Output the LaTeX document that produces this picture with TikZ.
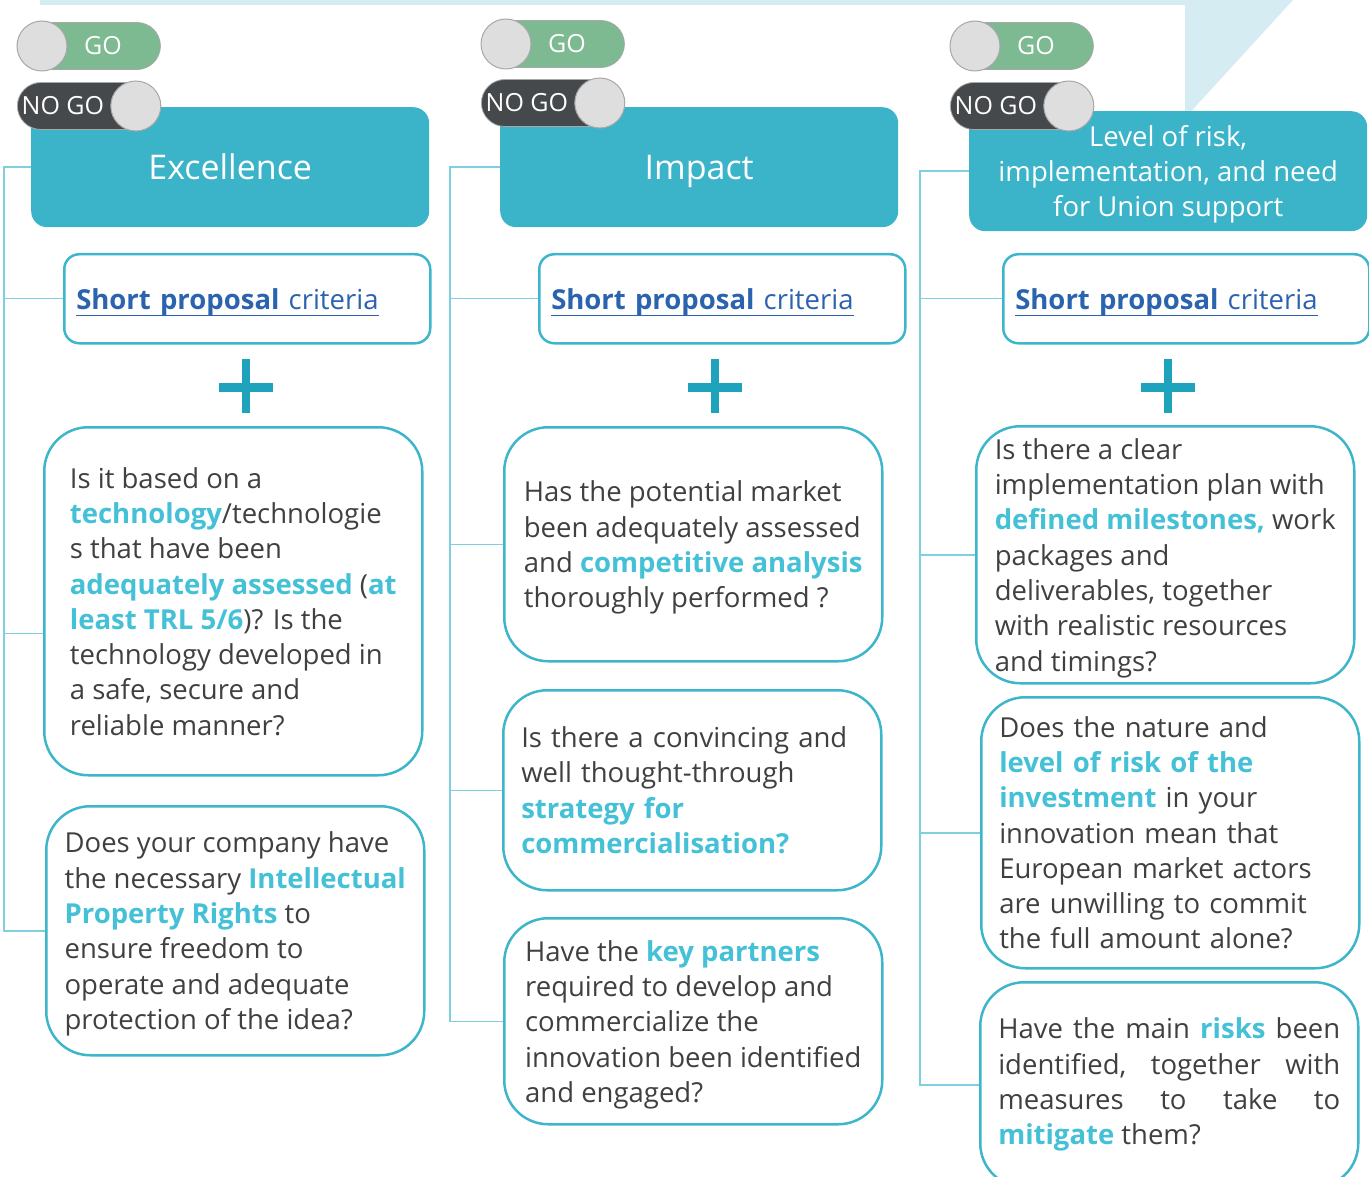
\documentclass[tikz,border=0pt]{standalone}
\usepackage{fontspec}
\setmainfont{Open Sans}
\usetikzlibrary{positioning,calc}

\definecolor{headteal}{RGB}{59,179,200}
\definecolor{boxteal}{RGB}{61,181,202}
\definecolor{plusteal}{RGB}{31,163,188}
\definecolor{hlcyan}{RGB}{69,193,215}
\definecolor{bodygray}{RGB}{64,64,64}
\definecolor{linkblue}{RGB}{43,99,175}
\definecolor{branchteal}{RGB}{127,208,222}
\definecolor{bandblue}{RGB}{213,236,242}
\definecolor{gogreen}{RGB}{125,186,145}
\definecolor{nogodark}{RGB}{69,73,76}
\definecolor{knobgray}{RGB}{222,222,222}
\definecolor{knobedge}{RGB}{168,168,168}

\newcommand{\hl}[1]{\textcolor{hlcyan}{\textbf{#1}}}
\newcommand{\linkul}[1]{\leavevmode\setbox0=\hbox{#1}\rlap{\rule[-7pt]{\wd0}{1.6pt}}\box0}

\begin{document}
\begin{tikzpicture}[x=1pt,y=-1pt,
    header/.style={fill=headteal, rounded corners=16pt, text=white, align=center,
        minimum width=398pt, minimum height=120pt, inner sep=0pt, anchor=north west,
        font=\fontsize{34}{40}\selectfont},
    crit/.style={draw=boxteal, line width=2.5pt, fill=white, rounded corners=15pt,
        minimum height=89pt, inner xsep=12pt, inner ysep=0pt, text width=342pt,
        text depth=0pt, align=left, anchor=north west, text=linkblue,
        font=\fontsize{27.5}{35}\selectfont},
    ques/.style={draw=boxteal, line width=2.5pt, fill=white, rounded corners=44pt,
        minimum width=378pt, inner sep=0pt, text depth=0pt, align=left, anchor=north west,
        text=bodygray, font=\fontsize{27.5}{35.3}\selectfont},
    branch/.style={draw=branchteal, line width=1.5pt},
    pill/.style={rounded corners=23.5pt, minimum width=143pt, minimum height=47pt,
        inner sep=0pt, draw=knobedge, line width=0.8pt, anchor=west},
    knob/.style={circle, fill=knobgray, draw=knobedge, line width=1pt,
        minimum size=50pt, inner sep=0pt},
    togtext/.style={text=white, inner sep=0pt, font=\fontsize{25}{28}\selectfont}
]
    \useasboundingbox (0,0) rectangle (1369,1177);
    \clip (0,0) rectangle (1369,1177);

    % light band and arrow tip at the top
    \fill[bandblue] (40,0) -- (1293,0) -- (1185,118) -- (1185,5) -- (40,5) -- cycle;

    % the three headers
    \node[header, text height=24.3pt, text depth=0pt] (exc) at (31,107) {Excellence};
    \node[header, text height=24.3pt, text depth=0pt] (imp) at (500,107) {Impact};
    \node[header, text depth=0pt, font=\fontsize{27.5}{35}\selectfont] (lvl) at (969,111)
        {Level of risk,\\implementation, and need\\for Union support};

    % go / no go switches
    \foreach \i/\x/\ya/\yb in {1/17/46/106, 2/481/44/103, 3/950/46/106}{
        \node[pill, fill=gogreen] (go\i) at (\x,\ya) {};
        \node[togtext] (got\i) at ([xshift=14pt]go\i.center) {GO};
        \node[knob] (gok\i) at ([xshift=25pt]go\i.west) {};
        \node[pill, fill=nogodark] (nogo\i) at (\x,\yb) {};
        \node[togtext] (nogot\i) at ([xshift=-26pt]nogo\i.center) {NO GO};
        \node[knob] (nogok\i) at ([xshift=-25pt]nogo\i.east) {};
    }

    % short proposal boxes
    \node[crit] (crit1) at (63,253) {\linkul{\textbf{Short proposal} criteria}};
    \node[crit] (crit2) at (538,253) {\linkul{\textbf{Short proposal} criteria}};
    \node[crit] (crit3) at (1002,253) {\linkul{\textbf{Short proposal} criteria}};

    % plus signs
    \foreach \x in {246,715,1168}{
        \fill[plusteal] ({\x-27},383) rectangle ({\x+27},392);
        \fill[plusteal] ({\x-4},359) rectangle ({\x+4},413);
    }

    % excellence questions
    \node[ques, minimum height=348pt] (q1a) at (43,426)
        {Is it based on a\\
         \hl{technology}/technologie\\
         s that have been\\
         \hl{adequately assessed} (\hl{at}\\
         \hl{least TRL 5/6})? Is the\\
         technology developed in\\
         a safe, secure and\\
         reliable manner?};
    \node[ques, minimum height=249pt] (q1b) at (45,805)
        {Does your company have\\
         the necessary \hl{Intellectual}\\
         \hl{Property Rights} to\\
         ensure freedom to\\
         operate and adequate\\
         protection of the idea?};

    % impact questions
    \node[ques, minimum height=234pt] (q2a) at (503,426)
        {Has the potential market\\
         been adequately assessed\\
         and \hl{competitive analysis}\\
         thoroughly performed ?};
    \node[ques, minimum height=200pt, text width=342pt, inner xsep=18pt, text depth={}]
        (q2b) at (502,689)
        {Is there a convincing and\\
         well thought-through\\
         \hl{strategy for}\\
         \hl{commercialisation?}};
    \node[ques, minimum height=206pt] (q2c) at (503,917)
        {Have the \hl{key partners}\\
         required to develop and\\
         commercialize the\\
         innovation been identified\\
         and engaged?};

    % risk questions
    \node[ques, minimum height=257pt] (q3a) at (975,425)
        {Is there a clear\\
         implementation plan with\\
         \hl{defined milestones,} work\\
         packages and\\
         deliverables, together\\
         with realistic resources\\
         and timings?};
    \node[ques, minimum height=271pt, text width=342pt, inner xsep=18pt, text depth={}]
        (q3b) at (980,696)
        {Does the nature and\\
         \hl{level of risk of the}\\
         \hl{investment} in your\\
         innovation mean that\\
         European market actors\\
         are unwilling to commit\\
         the full amount alone?};
    \node[ques, minimum height=205pt, text depth={}] (q3c) at (979,981)
        {\hbox to 342pt{Have\hfill the\hfill main\hfill \hl{risks}\hfill been}\\
         \hbox to 342pt{identified,\hfill together\hfill with}\\
         \hbox to 342pt{measures\hfill to\hfill take\hfill to}\\
         \hl{mitigate} them?};

    % connector lines on the left of each column
    \coordinate (sp1) at (4,0);
    \coordinate (sp2) at (450,0);
    \coordinate (sp3) at (920,0);

    \draw[branch] (exc.west) -- (exc.west -| sp1) -- (q1b.west -| sp1) -- (q1b.west);
    \draw[branch] (crit1.west -| sp1) -- (crit1.west);
    \draw[branch] ([yshift=-32pt]q1a.west -| sp1) -- ([yshift=-32pt]q1a.west);

    \draw[branch] (imp.west) -- (imp.west -| sp2) -- (q2c.west -| sp2) -- (q2c.west);
    \foreach \n in {crit2,q2a,q2b}
        \draw[branch] (\n.west -| sp2) -- (\n.west);

    \draw[branch] (lvl.west) -- (lvl.west -| sp3) -- (q3c.west -| sp3) -- (q3c.west);
    \foreach \n in {crit3,q3a,q3b}
        \draw[branch] (\n.west -| sp3) -- (\n.west);
\end{tikzpicture}
\end{document}
